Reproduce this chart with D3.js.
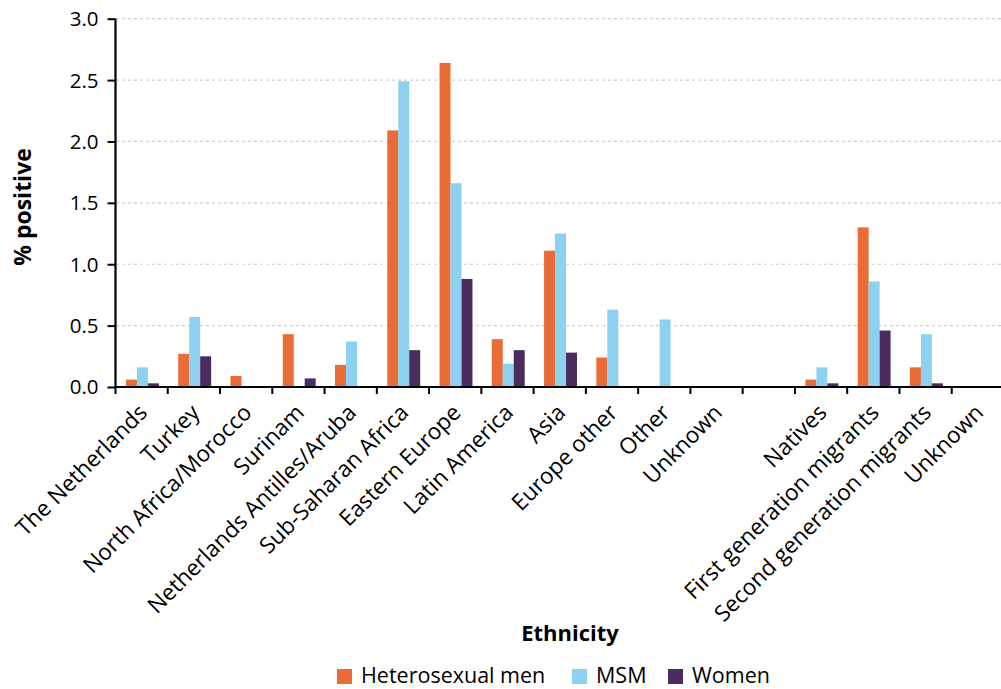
<!DOCTYPE html>
<html><head><meta charset="utf-8">
<script src="https://cdn.jsdelivr.net/npm/d3@7/dist/d3.min.js"></script>
<style>
body{margin:0;background:#fff;}
text{font-family:"Open Sans",sans-serif;fill:#000;}
</style></head><body>
<svg id="c" width="1001" height="689"></svg>
<script>
const categories = ["The Netherlands","Turkey","North Africa/Morocco","Surinam","Netherlands Antilles/Aruba","Sub-Saharan Africa","Eastern Europe","Latin America","Asia","Europe other","Other","Unknown","","Natives","First generation migrants","Second generation migrants","Unknown"];
const seriesNames = ["Heterosexual men","MSM","Women"];
const heteroMen = [0.06,0.27,0.09,0.43,0.18,2.09,2.64,0.39,1.11,0.24,0,0,0,0.06,1.30,0.16,0];
const msm       = [0.16,0.57,0,0,0.37,2.49,1.66,0.19,1.25,0.63,0.55,0,0,0.16,0.86,0.43,0];
const women     = [0.03,0.25,0,0.07,0,0.30,0.88,0.30,0.28,0,0,0,0,0.03,0.46,0.03,0];
const yTicks = [0,0.5,1.0,1.5,2.0,2.5,3.0];
const colors = ["#E96B35","#8DD0F0","#4A2D5E"];
const series = [heteroMen, msm, women];

const svg = d3.select("#c");
const x0 = d3.scaleBand().domain(d3.range(categories.length)).range([115.5,1004]).paddingInner(0).paddingOuter(0);
const x1 = d3.scaleBand().domain(d3.range(series.length)).range([x0.step()*0.2, x0.step()*0.83]);
const y = d3.scaleLinear().domain([0,3]).range([387,18.7]);

// gridlines
svg.append("g").selectAll("line").data(yTicks.filter(d=>d>0)).join("line")
  .attr("x1",116).attr("x2",1001).attr("y1",d=>y(d)).attr("y2",d=>y(d))
  .attr("stroke","#cfcfcf").attr("stroke-width",1.2).attr("stroke-dasharray","3,3");

// bars
const g = svg.append("g");
series.forEach((vals,si)=>{
  g.append("g").selectAll("rect").data(vals.map((v,i)=>({v,i}))).join("rect")
    .attr("x",d=>x0(d.i)+x1(si)).attr("width",x1.bandwidth())
    .attr("y",d=>y(d.v)).attr("height",d=>y(0)-y(d.v))
    .attr("fill",colors[si]);
});

// y axis
const ya = svg.append("g").attr("transform","translate(115.5,0)")
  .call(d3.axisLeft(y).tickValues(yTicks).tickFormat(d3.format(".1f")).tickSize(8).tickPadding(9));
ya.select(".domain").attr("stroke","#000").attr("stroke-width",2.2).attr("d","M0,"+y(3)+"V"+(y(0)+1));
ya.selectAll(".tick line").attr("stroke","#000").attr("stroke-width",2);
ya.selectAll(".tick text").attr("font-size",20.5).attr("font-family","Open Sans").attr("fill","#000").attr("dy","0.34em");

// x axis
const xa = svg.append("g").attr("transform","translate(0,"+y(0)+")")
  .call(d3.axisBottom(x0).tickSize(0).tickFormat(""));
xa.select(".domain").attr("stroke","#000").attr("stroke-width",2.2).attr("d","M114.5,0H1001");
xa.selectAll(".tick").remove();
const bounds = d3.range(categories.length).map(i=>x0(i));
xa.append("g").selectAll("line").data(bounds).join("line")
  .attr("x1",d=>d).attr("x2",d=>d).attr("y1",0).attr("y2",7)
  .attr("stroke","#000").attr("stroke-width",2);
xa.append("g").selectAll("text").data(categories).join("text")
  .attr("transform",(d,i)=>`translate(${x0(i)+x0.bandwidth()/2+7},${27}) rotate(-45)`)
  .attr("text-anchor","end").attr("font-size",22.5).text(d=>d);

// axis titles
svg.append("text").attr("x",570).attr("y",641).attr("text-anchor","middle")
  .attr("font-size",22).attr("font-weight","bold").text("Ethnicity");
svg.append("text").attr("transform","translate(31,207) rotate(-90)").attr("text-anchor","middle")
  .attr("font-size",23).attr("font-weight","bold").text("% positive");

// legend
const legX = [337,572,668];
const lg = svg.append("g");
seriesNames.forEach((n,i)=>{
  lg.append("rect").attr("x",legX[i]).attr("y",669).attr("width",15).attr("height",15).attr("fill",colors[i]);
  lg.append("text").attr("x",legX[i]+24).attr("y",683).attr("font-size",21.5).text(n);
});
</script></body></html>
